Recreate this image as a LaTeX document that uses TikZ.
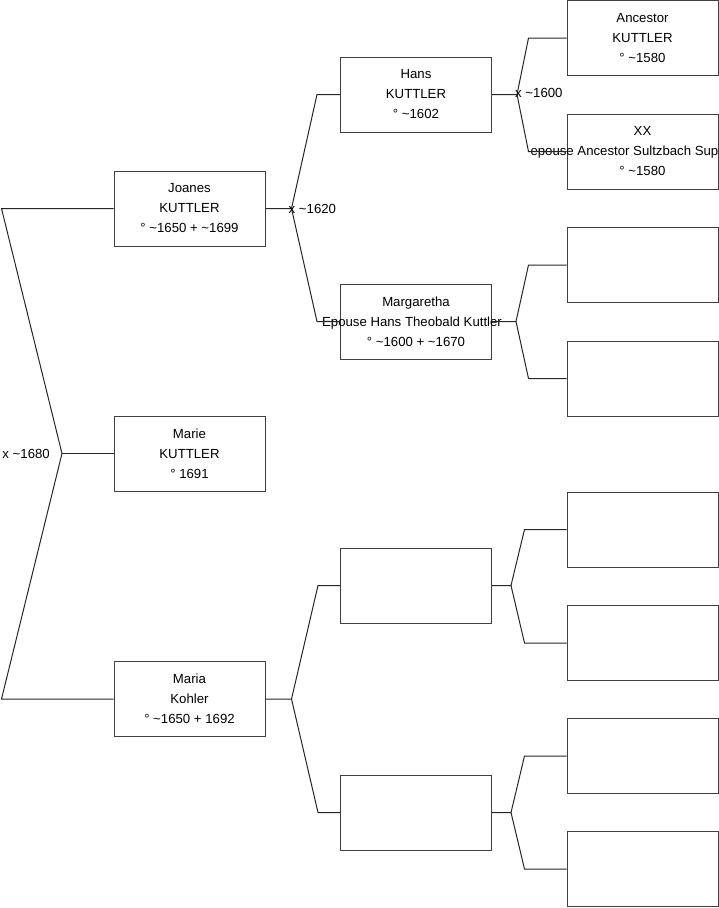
\documentclass[tikz,border=0pt]{standalone}
\usepackage{fontspec}
\setmainfont{Liberation Sans}
\usepackage{tikz}
\usetikzlibrary{positioning,calc}

\newcommand{\tld}{\textasciitilde}

\begin{document}
\begin{tikzpicture}[
    x=1pt, y=-1pt,
    person/.style={rectangle, draw=black!75, line width=1pt, fill=white, minimum width=151pt, minimum height=75pt, align=center, inner sep=0pt, font=\fontsize{13.2}{20}\selectfont},
    link/.style={draw=black!85, line width=1pt},
    union/.style={inner sep=0pt, font=\fontsize{13.2}{16}\selectfont}
]
\useasboundingbox (0,0) rectangle (719,908);

% generation 1
\node[person] (joanes) at (189.5,208.5) {Joanes\\KUTTLER\\° \tld1650 + \tld1699};
\node[person] (marie) at (189.5,453.5) {Marie\\KUTTLER\\° 1691};
\node[person] (maria) at (189.5,699) {Maria\\Kohler\\° \tld1650 + 1692};

% generation 2
\node[person] (hans) at (416,94.5) {Hans\\KUTTLER\\° \tld1602};
\node[person] (margaretha) at (416,321.5) {Margaretha\\\makebox[0pt]{\hspace*{-8pt}Epouse Hans Theobald Kuttler}\\° \tld1600 + \tld1670};
\node[person] (pb1) at (416,585.5) {};
\node[person] (pb2) at (416,812.5) {};

% generation 3
\node[person] (ancestor) at (642.5,38) {Ancestor\\KUTTLER\\° \tld1580};
\node[person] (xx) at (642.5,151.5) {XX\\\makebox[0pt][l]{\hspace*{-112pt}epouse Ancestor Sultzbach Sup}\\° \tld1580};
\node[person] (gb3) at (642.5,265) {};
\node[person] (gb4) at (642.5,378.5) {};
\node[person] (gb5) at (642.5,529.5) {};
\node[person] (gb6) at (642.5,643) {};
\node[person] (gb7) at (642.5,756) {};
\node[person] (gb8) at (642.5,869) {};

% parents of Marie
\coordinate (jr) at (62,453.5);
\draw[link] (joanes.west) -- ++(-112,0) -- (jr) -- ([xshift=-112pt]maria.west) -- (maria.west);
\draw[link] (jr) -- (marie.west);
\node[union, anchor=east] (u1680) at ([xshift=-12pt]jr) {x \tld1680};

% parents of Joanes
\draw[link] (joanes.east) -- ++(26,0) coordinate (jj) -- ([xshift=-23pt]hans.west) -- (hans.west);
\draw[link] (jj) -- ([xshift=-23pt]margaretha.west) -- (margaretha.west);
\node[union, anchor=west] (u1620) at ([xshift=-3pt]jj) {x \tld1620};

% parents of Maria
\draw[link] (maria.east) -- ++(26,0) coordinate (jm) -- ([xshift=-22pt]pb1.west) -- (pb1.west);
\draw[link] (jm) -- ([xshift=-22pt]pb2.west) -- (pb2.west);

% parents of Hans
\draw[link] (hans.east) -- ++(25,0) coordinate (jh) -- ([xshift=-38pt]ancestor.west) -- (ancestor.west);
\draw[link] (jh) -- ([xshift=-38pt]xx.west) -- (xx.west);
\node[union, anchor=west] (u1600) at ([xshift=-2pt,yshift=2pt]jh) {x \tld1600};

% parents of Margaretha
\draw[link] (margaretha.east) -- ++(24,0) coordinate (jg) -- ([xshift=-38pt]gb3.west) -- (gb3.west);
\draw[link] (jg) -- ([xshift=-38pt]gb4.west) -- (gb4.west);

% parents of the blank ones
\draw[link] (pb1.east) -- ++(19,0) coordinate (jb1) -- ([xshift=-42pt]gb5.west) -- (gb5.west);
\draw[link] (jb1) -- ([xshift=-42pt]gb6.west) -- (gb6.west);
\draw[link] (pb2.east) -- ++(19,0) coordinate (jb2) -- ([xshift=-42pt]gb7.west) -- (gb7.west);
\draw[link] (jb2) -- ([xshift=-42pt]gb8.west) -- (gb8.west);

\end{tikzpicture}
\end{document}
